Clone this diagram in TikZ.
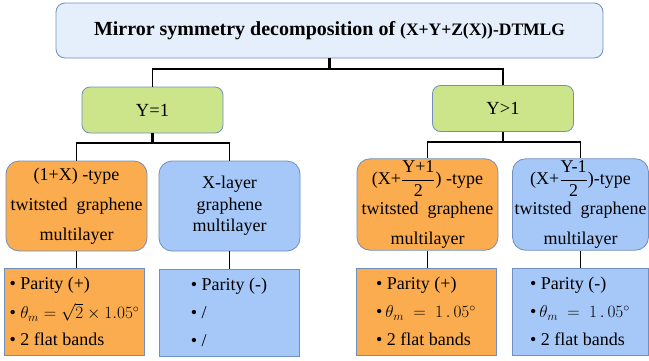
\documentclass[tikz,border=0pt]{standalone}
\usepackage{amsmath}
\usepackage{fontspec}
\setmainfont{Liberation Serif}
\usetikzlibrary{positioning}

\definecolor{topblue}{HTML}{E5EEFB}
\definecolor{leafgreen}{HTML}{CCE58B}
\definecolor{evenorange}{HTML}{FBAC4F}
\definecolor{oddblue}{HTML}{A5C8F8}
\definecolor{boxline}{HTML}{6F8FBF}

\newcommand{\bodyfont}{\fontsize{18}{21.6}\selectfont}

\begin{document}
\begin{tikzpicture}[x=1pt, y=-1pt,
    box/.style={draw=boxline, line width=0.8pt, align=center, inner sep=2pt},
    head/.style={box, rounded corners=9pt, fill=topblue, minimum width=547pt, minimum height=55pt},
    case/.style={box, rounded corners=8pt, fill=leafgreen, minimum width=141pt, minimum height=46pt, font=\fontsize{18.5}{22}\selectfont},
    kind/.style={box, rounded corners=13pt, minimum height=90pt, font=\bodyfont},
    props/.style={box, align=left, minimum height=87pt, font=\bodyfont},
    stub/.style={line width=2.6pt},
    branch/.style={line width=1.8pt}]
    \useasboundingbox (0,0) rectangle (649,360);

    \node[head] (top) at (329.5,30.5) {\bfseries\fontsize{20}{24}\selectfont Mirror symmetry decomposition of {\fontsize{17.5}{21}\selectfont (X+Y+Z(X))-DTMLG}};

    \node[case] (one) at (152.5,110) {Y=1};
    \node[case] (many) at (503,108.5) {Y\textgreater1};

    \node[kind, fill=evenorange, minimum width=141pt] (A) at (76.5,206) {(1+X) -type\\[8.5pt] twitsted\ \ graphene\\[8.5pt] multilayer};
    \node[kind, fill=oddblue, minimum width=141pt] (B) at (229.5,206) {X-layer\\ graphene\\ multilayer};
    \node[kind, fill=evenorange, minimum width=141pt] (C) at (427.5,204.5) {(X+$\dfrac{\text{Y+1}}{\text{2}}$) -type\\[4.5pt] twitsted\ \ graphene\\[8.5pt] multilayer};
    \node[kind, fill=oddblue, minimum width=135pt] (D) at (580.5,204.5) {(X+$\dfrac{\text{Y-1}}{\text{2}}$)-type\\[4.5pt] twitsted\ \ graphene\\[8.5pt] multilayer};

    \node[props, fill=evenorange, minimum width=140pt] (pA) at (74.5,311.5) {\textbullet\ Parity (+)\\[7.5pt] \textbullet\ $\theta_m=\sqrt{2}\times1.05^\circ$\\[5.5pt] \textbullet\ 2 flat bands};
    \node[props, fill=oddblue, minimum width=140pt] (pB) at (229,312.5) {\textbullet\ Parity (-)\\[6.4pt] \textbullet\ /\\[6.4pt] \textbullet\ /};
    \node[props, fill=evenorange, minimum width=140pt] (pC) at (426,311.5) {\textbullet\ Parity (+)\\[6.4pt] \textbullet\,$\theta_m\ =\ 1\,.\,05^\circ$\\[6.4pt] \textbullet\ 2 flat bands};
    \node[props, fill=oddblue, minimum width=136pt] (pD) at (580,311.5) {\textbullet\ Parity (-)\\[6.4pt] \textbullet\,$\theta_m\ =\ 1\,.\,05^\circ$\\[6.4pt] \textbullet\ 2 flat bands};

    % tree joints
    \coordinate (j0) at (329.5,69);
    \coordinate (j1) at (152.5,143);
    \coordinate (j2) at (503,142);

    \draw[stub] (top.south) -- (j0);
    \draw[branch] (one.north) |- (j0) -| (many.north);
    \draw[stub] (one.south) -- (j1);
    \draw[branch] (A.north) |- (j1) -| (B.north);
    \draw[stub] (many.south) -- (j2);
    \draw[branch] (C.north) |- (j2) -| (D.north);

    % down to the property boxes
    \foreach \k/\p in {A/pA, B/pB, C/pC, D/pD}
        \draw[branch] (\k.south) -- (\k.south |- \p.north);
\end{tikzpicture}
\end{document}
